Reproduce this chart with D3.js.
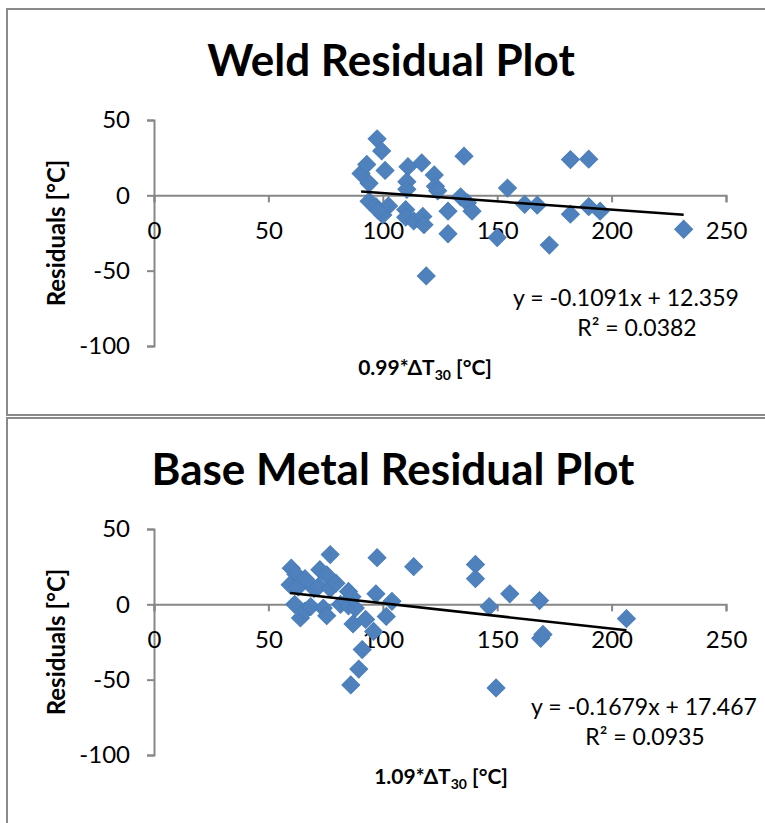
<!DOCTYPE html>
<html>
<head>
<meta charset="utf-8">
<script src="https://cdn.jsdelivr.net/npm/d3@7"></script>
<style>
  body { margin: 0; background: #fff; }
  text { font-family: Lato, 'Open Sans', sans-serif; fill: #000; }
</style>
</head>
<body>
<svg width="765" height="823"></svg>
<script>
// residuals
var weldX = [90.5, 93, 97.5, 99.5, 101, 94, 94, 97, 102.5, 100, 98,
  110, 110, 113.5, 117.5, 118, 111, 117, 110.5, 110.5, 122.5, 123, 124,
  128.5, 128.5, 134, 137, 139, 135.5, 119,
  150, 154.5, 162, 167.5, 172.8, 182, 190, 182, 190, 195, 231.5]
var weldY = [14.5, 20.5, 37.5, 29.5, 16.5, 8, -4, -7.5, -7, -13, -10,
  -9.5, -14.5, -17, -14, -19.5, 19, 21.5, 9, 4, 13.5, 6, 3,
  -10.5, -25.5, -1, -5, -10.5, 26, -53.5,
  -28, 4.8, -6, -6.5, -33, 23.7, 24, -12.5, -7.5, -10.5, -22.5]

var baseX = [60, 62, 59.5, 61.5, 63, 64, 66, 66, 68.5, 70, 72.5, 72, 74, 75.5, 75.5,
  77, 77, 79.5, 81.5, 85, 85, 86.5, 88, 87, 86, 89.5, 91, 92.5, 96, 97.5, 97,
  101.5, 104, 113.5, 140.5, 140.5, 146.5, 149.5, 155.5, 168.5, 169, 170, 206.5]
var baseY = [24, 20, 13, 0, 11.5, -9, 17, -4.5, -1.5, 10.5, 23, 12, -2.5, 19.5, -7.5,
  33, 10.5, 14, 0, 8.5, -1, 5, -2.5, -13, -53.5, -43, -30, -10, -18, 31, 7,
  -8, 2, 25, 26.5, 17, -1.5, -55.5, 7, 2.5, -22.5, -20, -9.5]

var xTicks = [0, 50, 100, 150, 200, 250]
var yTicks = [50, 0, -50, -100]

// trendline: slope, intercept
var weldFit = [-0.1091, 12.359]
var baseFit = [-0.1679, 17.467]
var weldR2 = '0.0382'
var baseR2 = '0.0935'

var svg = d3.select('svg')

var x = d3.scaleLinear().domain([0, 250]).range([154, 726])
var y = d3.scaleLinear().domain([-100, 50]).range([346, 120])

var axisColor = '#878787'
var blue = '#4F81BD'

function fmt (v) { return (v < 0 ? '-' : '') + Math.abs(v) }

function drawPanel (p) {
  var g = svg.append('g').attr('transform', 'translate(0,' + p.dy + ')')

  g.append('rect')
      .attr('x', 7).attr('y', 9)
      .attr('width', 800).attr('height', 406)
      .attr('fill', '#fff')
      .attr('stroke', '#8a8a8a')
      .attr('stroke-width', 2)

  g.append('text')
      .attr('x', p.titleX).attr('y', 76)
      .attr('text-anchor', 'middle')
      .style('font-size', '44px')
      .style('font-weight', 'bold')
      .text(p.title)

  g.append('g')
      .attr('transform', 'translate(' + x(0) + ',0)')
      .call(d3.axisLeft(y).tickValues(yTicks).tickSize(7).tickPadding(17).tickFormat(fmt))
  g.append('g')
      .attr('transform', 'translate(0,' + y(0) + ')')
      .call(d3.axisBottom(x).tickValues(xTicks).tickSize(7).tickPadding(20))

  g.selectAll('.domain, .tick line')
      .attr('stroke', axisColor)
      .attr('stroke-width', 2)
  g.selectAll('.tick text')
      .attr('fill', '#000')
      .style('font-family', 'Lato, sans-serif')
      .style('font-size', '24px')

  g.append('text')
      .attr('transform', 'translate(65,233) rotate(-90)')
      .attr('text-anchor', 'middle')
      .style('font-size', '24px')
      .style('font-weight', 'bold')
      .text('Residuals [°C]')

  var xt = g.append('text')
      .attr('x', p.xTitleX).attr('y', 375)
      .attr('text-anchor', 'middle')
      .style('font-size', '21px')
      .style('font-weight', 'bold')
  xt.append('tspan').text(p.factor + '*ΔT')
  xt.append('tspan').attr('dy', 5).style('font-size', '14px').text('30')
  xt.append('tspan').attr('dy', -5).text(' [°C]')

  var pts = d3.zip(p.xs, p.ys)
  g.append('g').selectAll('path')
      .data(pts)
    .enter().append('path')
      .attr('d', d3.symbol(d3.symbolSquare, 160))
      .attr('transform', function (d) { return 'translate(' + x(d[0]) + ',' + y(d[1]) + ') rotate(45)' })
      .attr('fill', blue)
      .attr('stroke', '#4A7EBB')

  var ext = d3.extent(p.xs)
  var line = d3.line()
      .x(function (d) { return x(d) })
      .y(function (d) { return y(p.fit[0] * d + p.fit[1]) })
  g.append('path')
      .attr('d', line(ext))
      .attr('stroke', '#000')
      .attr('stroke-width', 2.5)
      .attr('fill', 'none')

  g.append('text')
      .attr('x', p.eqX).attr('y', 306)
      .attr('text-anchor', 'middle')
      .style('font-size', '23px')
      .text('y = ' + p.fit[0] + 'x + ' + p.fit[1])
  g.append('text')
      .attr('x', p.r2X).attr('y', 336)
      .attr('text-anchor', 'middle')
      .style('font-size', '23px')
      .text('R² = ' + p.r2)
}

drawPanel({ dy: 0, title: 'Weld Residual Plot', titleX: 391, factor: '0.99', xTitleX: 425,
  xs: weldX, ys: weldY, fit: weldFit, r2: weldR2, eqX: 626, r2X: 637 })
drawPanel({ dy: 409, title: 'Base Metal Residual Plot', titleX: 393, factor: '1.09', xTitleX: 441,
  xs: baseX, ys: baseY, fit: baseFit, r2: baseR2, eqX: 644, r2X: 645 })
</script>
</body>
</html>
